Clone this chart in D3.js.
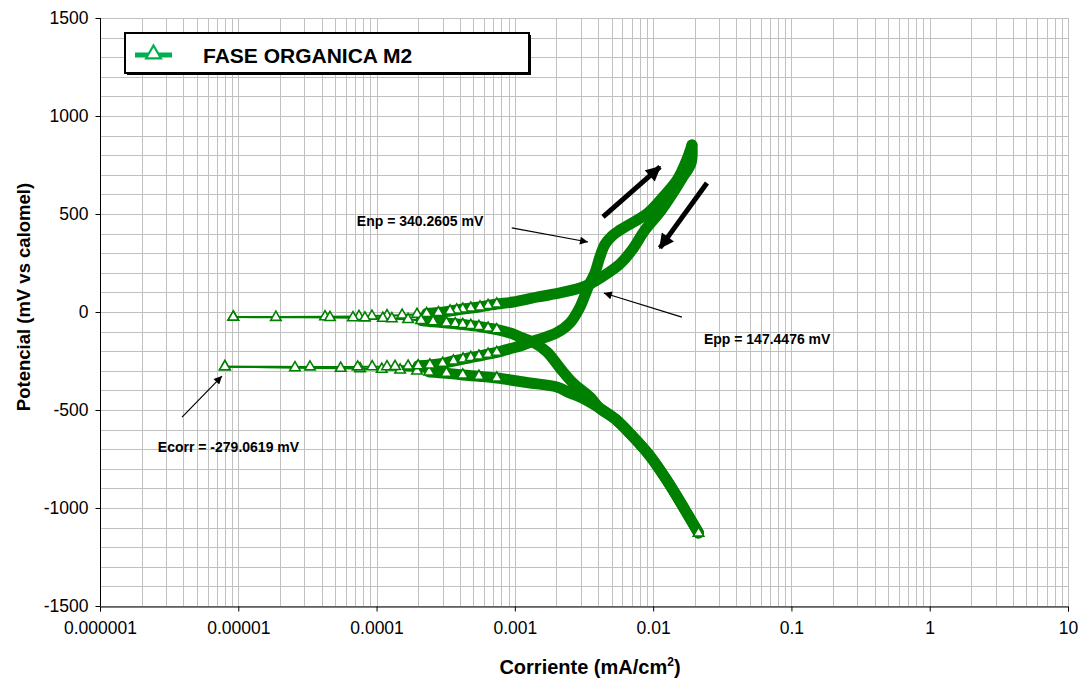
<!DOCTYPE html>
<html>
<head>
<meta charset="utf-8">
<script src="https://cdn.jsdelivr.net/npm/d3@7"></script>
<style>
  body { margin: 0; background: #fff; }
  svg { font-family: "Liberation Sans", Arial, sans-serif; }
</style>
</head>
<body>
<script>
(function() {
	"use strict";
	// cyclic polarization, 4 branches in scan order (current mA/cm2, potential mV)
	const CATH_FWD_I = [0.0213, 0.0170, 0.0126, 0.0095, 0.0068, 0.0053, 0.0041, 0.0031, 0.0025, 0.00201,
	                    0.00129, 0.00074, 0.00055, 0.00042, 0.00032, 0.00024, 0.000196, 0.000148, 0.000109,
	                    0.000076, 0.000055, 0.0000257, 0.0000080],
	   CATH_FWD_E = [-1128, -1010, -860, -735, -620, -545, -490, -440, -413, -383,
	                 -362, -337, -328, -321, -312, -306, -301, -296, -292,
	                 -289, -287, -284, -279],
	   ANOD_FWD_I = [0.0000080, 0.000033, 0.000073, 0.000093, 0.000119, 0.000136, 0.000169, 0.000200,
	                 0.000243, 0.000300, 0.000360, 0.000422, 0.00048, 0.00055, 0.00064, 0.00074, 0.00095,
	                 0.00115, 0.00144, 0.0020, 0.0025, 0.00296, 0.00332, 0.00349, 0.00379, 0.00412,
	                 0.00448, 0.00504, 0.00575, 0.00916, 0.0118, 0.0149, 0.0175, 0.0191],
	   ANOD_FWD_E = [-279, -280, -280, -279, -279, -278, -276, -274,
	                 -270, -262, -250, -240, -232, -225, -215, -206, -185,
	                 -168, -143, -107, -56, 26, 112, 148, 199, 281,
	                 345, 388, 418, 505, 587, 673, 776, 852],
	   ANOD_REV_I = [0.0191, 0.0188, 0.0164, 0.0139, 0.0112, 0.00873, 0.00703, 0.00575, 0.00427, 0.00349,
	                 0.00296, 0.00212, 0.00147, 0.00097, 0.00074, 0.00064, 0.00056, 0.00048, 0.00042, 0.00038,
	                 0.00034, 0.00028, 0.00023, 0.000196, 0.000153, 0.000119, 0.0000926, 0.0000746,
	                 0.0000424, 0.0000092],
	   ANOD_REV_E = [852, 760, 689, 607, 510, 418, 316, 245, 179, 143,
	                 122, 97, 77, 51, 41, 33, 26, 20, 15, 10,
	                 5, -3, -8, -12, -16, -19, -21, -23,
	                 -24, -26],
	   CATH_REV_I = [0.0000092, 0.0000187, 0.000046, 0.0000675, 0.0000824, 0.000111, 0.000129, 0.000169,
	                 0.000210, 0.000256, 0.000320, 0.00037, 0.00042, 0.00048, 0.00055, 0.00064, 0.00074,
	                 0.00095, 0.00109, 0.00135, 0.00171, 0.00212, 0.00263, 0.00349, 0.0041, 0.0053,
	                 0.0068, 0.0095, 0.0126, 0.0170, 0.0213],
	   CATH_REV_E = [-26, -27, -28, -29, -30, -32, -34, -38,
	                 -43, -50, -56, -60, -64, -69, -74, -82, -90,
	                 -110, -128, -153, -204, -286, -362, -434, -490, -545,
	                 -620, -735, -860, -1010, -1128];
	const X_TICKS = [1e-6, 1e-5, 1e-4, 1e-3, 1e-2, 1e-1, 1, 10],
	   X_LABELS = ["0.000001", "0.00001", "0.0001", "0.001", "0.01", "0.1", "1", "10"],
	   Y_TICKS = [-1500, -1000, -500, 0, 500, 1000, 1500],
	   SERIES_NAME = "FASE ORGANICA M2";
	// annotations in data coordinates: text anchor, arrow [i0, e0, i1, e1]
	const NOTES = [
		{ text: "Enp = 340.2605 mV", at: [7.2e-5, 439], arrow: [9.5e-4, 429, 0.00338, 357] },
		{ text: "Epp = 147.4476 mV", at: [0.0233, -163], arrow: [0.01614, -26, 0.0044, 97] },
		{ text: "Ecorr = -279.0619 mV", at: [2.62e-6, -714], arrow: [3.92e-6, -536, 7.62e-6, -327] }
	];
	const SCAN_ARROWS = [[0.00434, 485, 0.0112, 740], [0.0245, 658, 0.0112, 327]];

	const W = 1083, H = 681, green = "#008000", legGreen = "#00b050";
	const BAND_FROM = 2.0e-4, MARK_TO = 8.0e-4;

	const zip = (is, es) => is.map((v, k) => ({ i: v, e: es[k] }));
	const branches = [zip(CATH_FWD_I, CATH_FWD_E), zip(ANOD_FWD_I, ANOD_FWD_E),
	                  zip(ANOD_REV_I, ANOD_REV_E), zip(CATH_REV_I, CATH_REV_E)];

	const svg = d3.select("body").append("svg").attr("width", W).attr("height", H);
	const defs = svg.append("defs");
	defs.append("marker").attr("id", "thin").attr("viewBox", "0 0 10 10").attr("refX", 10).attr("refY", 5)
		.attr("markerUnits", "userSpaceOnUse").attr("markerWidth", 11).attr("markerHeight", 8).attr("orient", "auto")
		.append("path").attr("d", "M0,0 L10,5 L0,10 Z").attr("fill", "#000");
	defs.append("marker").attr("id", "thick").attr("viewBox", "0 0 10 10").attr("refX", 9).attr("refY", 5)
		.attr("markerUnits", "userSpaceOnUse").attr("markerWidth", 17).attr("markerHeight", 15).attr("orient", "auto")
		.append("path").attr("d", "M0,0 L10,5 L0,10 Z").attr("fill", "#000");

	const x = d3.scaleLog().domain([1e-6, 10]).range([100, 1068]);
	const y = d3.scaleLinear().domain([-1500, 1500]).range([606, 18]);

	// grid
	const grid = svg.append("g").attr("stroke", "#c0c0c0").attr("stroke-width", 1);
	grid.selectAll("line.h").data(d3.range(-1500, 1501, 100)).enter().append("line")
		.attr("x1", 100).attr("x2", 1068).attr("y1", d => Math.round(y(d)) + 0.5).attr("y2", d => Math.round(y(d)) + 0.5);
	grid.selectAll("line.v").data(x.ticks()).enter().append("line")
		.attr("y1", 18).attr("y2", 606).attr("x1", d => Math.round(x(d)) + 0.5).attr("x2", d => Math.round(x(d)) + 0.5);

	// axes
	const yAxis = svg.append("g").attr("transform", "translate(100.5,0)")
		.call(d3.axisLeft(y).tickValues(Y_TICKS).tickSize(5).tickPadding(7).tickFormat(d => String(d)));
	const xAxis = svg.append("g").attr("transform", "translate(0,606.5)")
		.call(d3.axisBottom(x).tickValues(X_TICKS).tickSize(5).tickPadding(10).tickFormat((d, k) => X_LABELS[k]));
	[xAxis, yAxis].forEach(a => {
		a.select(".domain").attr("stroke", "#000");
		a.selectAll(".tick line").attr("stroke", "#000");
		a.selectAll("text").attr("font-size", 17.5).attr("fill", "#000")
			.attr("font-family", "'Liberation Sans', Arial, sans-serif");
	});
	yAxis.select(".domain").attr("d", "M0,18V606");

	svg.append("text").attr("transform", "translate(30,297) rotate(-90)").attr("text-anchor", "middle")
		.attr("font-size", 18.5).attr("font-weight", "bold").text("Potencial (mV vs calomel)");
	const xt = svg.append("text").attr("x", 590).attr("y", 674).attr("text-anchor", "middle")
		.attr("font-size", 20).attr("font-weight", "bold");
	xt.append("tspan").text("Corriente (mA/cm");
	xt.append("tspan").attr("font-size", 12).attr("dy", -8).text("2");
	xt.append("tspan").attr("dy", 8).text(")");

	// curves
	const line = d3.line().x(d => x(d.i)).y(d => y(d.e)).curve(d3.curveCatmullRom.alpha(0.5));
	const plot = svg.append("g");
	plot.selectAll("path.band").data(branches).enter().append("path")
		.attr("d", b => line(b.filter(d => d.i >= BAND_FROM)))
		.attr("fill", "none").attr("stroke", green).attr("stroke-width", 11)
		.attr("stroke-linejoin", "round").attr("stroke-linecap", "round");
	plot.selectAll("path.thin").data(branches).enter().append("path")
		.attr("d", line).attr("fill", "none").attr("stroke", green).attr("stroke-width", 2);
	const tri = d3.symbol(d3.symbolTriangle, 48);
	const marks = branches.flatMap(b => b.filter(d => d.i <= MARK_TO));
	const last = branches[3][branches[3].length - 1];
	marks.push(last);
	plot.selectAll("path.mk").data(marks).enter().append("path")
		.attr("d", tri).attr("transform", d => `translate(${x(d.i)},${y(d.e)})`)
		.attr("fill", "#fff").attr("stroke", green).attr("stroke-width", 1.6);

	// annotations
	const ann = svg.append("g");
	ann.selectAll("line.note").data(NOTES).enter().append("line")
		.attr("x1", d => x(d.arrow[0])).attr("y1", d => y(d.arrow[1]))
		.attr("x2", d => x(d.arrow[2])).attr("y2", d => y(d.arrow[3]))
		.attr("stroke", "#000").attr("stroke-width", 1.2).attr("marker-end", "url(#thin)");
	ann.selectAll("text").data(NOTES).enter().append("text")
		.attr("x", d => x(d.at[0])).attr("y", d => y(d.at[1]))
		.attr("font-size", 14).attr("font-weight", "bold").text(d => d.text);
	ann.selectAll("line.scan").data(SCAN_ARROWS).enter().append("line")
		.attr("x1", d => x(d[0])).attr("y1", d => y(d[1])).attr("x2", d => x(d[2])).attr("y2", d => y(d[3]))
		.attr("stroke", "#000").attr("stroke-width", 5).attr("marker-end", "url(#thick)");

	// legend
	const leg = svg.append("g");
	leg.append("rect").attr("x", 127).attr("y", 35).attr("width", 404).attr("height", 40).attr("fill", "#000");
	leg.append("rect").attr("x", 125).attr("y", 33).attr("width", 404).attr("height", 40)
		.attr("fill", "#fff").attr("stroke", "#000").attr("stroke-width", 2);
	leg.append("line").attr("x1", 135).attr("x2", 172).attr("y1", 55).attr("y2", 55)
		.attr("stroke", legGreen).attr("stroke-width", 5);
	leg.append("path").attr("d", d3.symbol(d3.symbolTriangle, 95)).attr("transform", "translate(153.5,54)")
		.attr("fill", "#fff").attr("stroke", legGreen).attr("stroke-width", 2.2);
	leg.append("text").attr("x", 203).attr("y", 63).attr("font-size", 21).attr("font-weight", "bold").text(SERIES_NAME);
}());
</script>
</body>
</html>
